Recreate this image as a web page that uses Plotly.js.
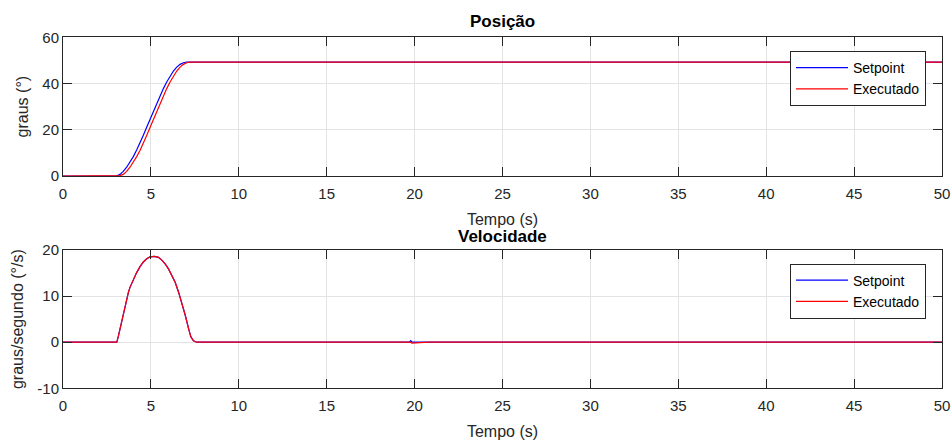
<!DOCTYPE html>
<html>
<head>
<meta charset="utf-8">
<script src="https://cdn.plot.ly/plotly-3.0.1.min.js"></script>
<style>html,body{margin:0;padding:0;background:#fff;}#chart{width:952px;height:441px;}</style>
</head>
<body>
<div id="chart"></div>
<script>
// Position (degrees) — setpoint
const tPosSet = [0, 3.05, 3.24, 3.43, 3.62, 3.81, 4.0, 4.19, 4.38, 4.57, 4.76, 4.95, 5.14, 5.33, 5.52, 5.71, 5.9, 6.09, 6.28, 6.47, 6.66, 6.85, 7.04, 50];
const posSet  = [0, 0, 0.7, 2.0, 3.8, 5.9, 8.4, 11.2, 14.2, 17.6, 21.1, 24.5, 28.0, 31.4, 34.7, 37.8, 40.7, 43.3, 45.4, 47.1, 48.3, 49.0, 49.3, 49.3];
// Position (degrees) — executed
const tPosExe = [0, 3.05, 3.24, 3.43, 3.62, 3.81, 4.0, 4.19, 4.38, 4.57, 4.76, 4.95, 5.14, 5.33, 5.52, 5.71, 5.9, 6.09, 6.28, 6.47, 6.66, 6.85, 7.04, 7.23, 50];
const posExe  = [0, 0, 0.2, 0.7, 2.0, 3.8, 5.9, 8.4, 11.0, 14.0, 17.5, 21.0, 24.5, 28.0, 31.4, 34.7, 37.8, 40.7, 43.3, 45.4, 47.1, 48.3, 49.0, 49.3, 49.3];
// Velocity (degrees/second) — setpoint
const tVelSet = [0, 3.06, 3.15, 3.25, 3.35, 3.44, 3.53, 3.62, 3.72, 3.81, 4.0, 4.19, 4.38, 4.57, 4.76, 4.95, 5.2, 5.43, 5.62, 5.81, 6.0, 6.19, 6.38, 6.57, 6.76, 6.95, 7.14, 7.27, 7.42, 7.61, 19.7, 19.78, 19.86, 50];
const velSet  = [0, 0, 1.3, 3.0, 4.9, 6.6, 8.1, 9.5, 10.8, 11.9, 13.7, 15.1, 16.4, 17.4, 18.1, 18.5, 18.6, 18.4, 17.8, 17.0, 15.9, 14.6, 13.0, 10.9, 8.6, 5.9, 3.0, 1.2, 0.3, 0, 0, 0.35, 0, 0];
// Velocity (degrees/second) — executed
const tVelExe = [0, 3.06, 3.15, 3.25, 3.35, 3.44, 3.53, 3.62, 3.72, 3.81, 4.0, 4.19, 4.38, 4.57, 4.76, 4.95, 5.2, 5.43, 5.62, 5.81, 6.0, 6.19, 6.38, 6.57, 6.76, 6.95, 7.14, 7.27, 7.42, 7.61, 19.75, 19.85, 20.3, 20.8, 50];
const velExe  = [0, 0, 1.3, 3.0, 4.9, 6.6, 8.1, 9.5, 10.8, 11.9, 13.7, 15.1, 16.4, 17.4, 18.1, 18.5, 18.6, 18.4, 17.8, 17.0, 15.9, 14.6, 13.0, 10.9, 8.6, 5.9, 3.0, 1.2, 0.3, 0, 0, -0.2, -0.1, 0, 0];

const xTicks = [0, 5, 10, 15, 20, 25, 30, 35, 40, 45, 50];
const posTicks = [0, 20, 40, 60];
const velTicks = [-10, 0, 10, 20];

const FONT = 'Liberation Sans, Arial, Helvetica, sans-serif';
const AX = '#262626';
const GRID = '#e3e3e3';

function xaxis(anchor) {
  return {
    domain: [63/952, 942/952], anchor: anchor, range: [0, 50],
    tickvals: xTicks, ticktext: xTicks.map(String),
    ticks: 'inside', ticklen: 9, tickcolor: AX, tickwidth: 1,
    showline: true, linecolor: AX, linewidth: 1, mirror: 'ticks',
    showgrid: true, gridcolor: GRID, gridwidth: 1, zeroline: false,
    tickfont: {family: FONT, size: 15, color: AX}, ticklabelstandoff: 4,
    title: {text: 'Tempo (s)', font: {family: FONT, size: 16, color: AX}, standoff: 12},
    fixedrange: true
  };
}
function yaxis(anchor, dom, rng, ticks, title) {
  return {
    domain: dom, anchor: anchor, range: rng,
    tickvals: ticks, ticktext: ticks.map(String),
    ticks: 'inside', ticklen: 9, tickcolor: AX, tickwidth: 1,
    showline: true, linecolor: AX, linewidth: 1, mirror: 'ticks',
    showgrid: true, gridcolor: GRID, gridwidth: 1, zeroline: false,
    tickfont: {family: FONT, size: 15, color: AX},
    title: {text: title, font: {family: FONT, size: 16, color: AX}, standoff: 9},
    fixedrange: true
  };
}

const data = [
  {x: tPosSet, y: posSet, name: 'Setpoint', type: 'scatter', mode: 'lines', line: {color: '#0000ff', width: 1.2}, xaxis: 'x', yaxis: 'y', legend: 'legend'},
  {x: tPosExe, y: posExe, name: 'Executado', type: 'scatter', mode: 'lines', line: {color: '#ff0000', width: 1.2}, xaxis: 'x', yaxis: 'y', legend: 'legend'},
  {x: tVelSet, y: velSet, name: 'Setpoint', type: 'scatter', mode: 'lines', line: {color: '#0000ff', width: 1.2}, xaxis: 'x2', yaxis: 'y2', legend: 'legend2'},
  {x: tVelExe, y: velExe, name: 'Executado', type: 'scatter', mode: 'lines', line: {color: '#ff0000', width: 1.2}, xaxis: 'x2', yaxis: 'y2', legend: 'legend2'}
];

const legStyle = {
  xanchor: 'right', yanchor: 'top', bgcolor: '#ffffff', bordercolor: AX, borderwidth: 1,
  font: {family: FONT, size: 14, color: '#000'}, tracegroupgap: 0, itemwidth: 52
};

const layout = {
  width: 952, height: 441,
  margin: {l: 0, r: 0, t: 0, b: 0},
  paper_bgcolor: '#ffffff', plot_bgcolor: '#ffffff',
  showlegend: true,
  xaxis: xaxis('y'),
  yaxis: yaxis('x', [(441-176)/441, (441-37.3)/441], [0, 60], posTicks, 'graus (°)'),
  xaxis2: xaxis('y2'),
  yaxis2: yaxis('x2', [(441-388.3)/441, (441-250)/441], [-10, 20], velTicks, 'graus/segundo (°/s)'),
  legend: Object.assign({x: 926/952, y: (441-51)/441}, legStyle),
  legend2: Object.assign({x: 926/952, y: (441-263.5)/441}, legStyle),
  annotations: [
    {text: '<b>Posição</b>', xref: 'paper', yref: 'paper', x: 502.5/952, y: (441-22)/441, xanchor: 'center', yanchor: 'middle', showarrow: false, font: {family: FONT, size: 17, color: '#000'}},
    {text: '<b>Velocidade</b>', xref: 'paper', yref: 'paper', x: 502.5/952, y: (441-237)/441, xanchor: 'center', yanchor: 'middle', showarrow: false, font: {family: FONT, size: 17, color: '#000'}}
  ]
};

Plotly.newPlot('chart', data, layout, {displayModeBar: false, staticPlot: true});
</script>
</body>
</html>
